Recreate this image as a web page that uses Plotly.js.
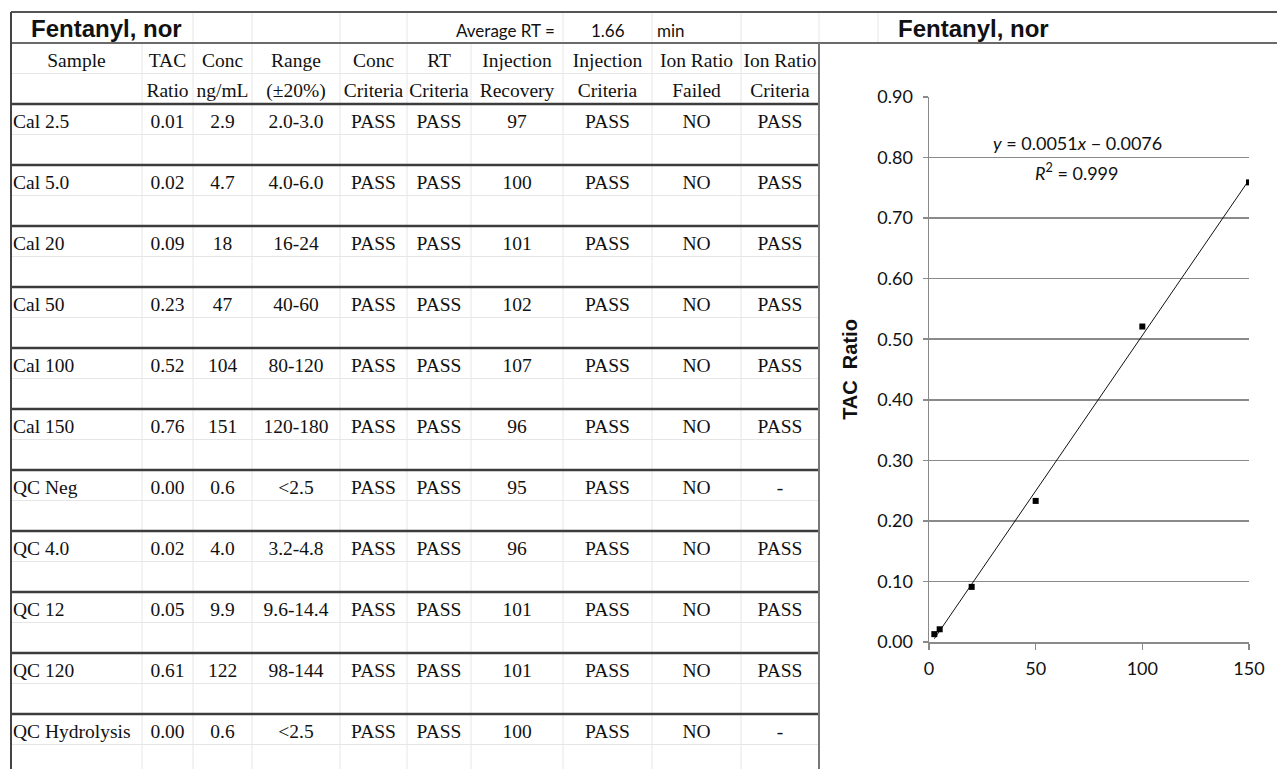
<!DOCTYPE html>
<html>
<head>
<meta charset="utf-8">
<script src="https://cdn.plot.ly/plotly-3.0.1.min.js"></script>
<style>html,body{margin:0;padding:0;background:#fff;}#chart{width:1277px;height:769px;}</style>
</head>
<body>
<div id="chart"></div>
<script>
// ---------------- DATA ----------------
const analyte = 'Fentanyl, nor';
const averageRT = '1.66';
const samples = ['Cal 2.5','Cal 5.0','Cal 20','Cal 50','Cal 100','Cal 150','QC Neg','QC 4.0','QC 12','QC 120','QC Hydrolysis'];
const tacRatio = [0.01,0.02,0.09,0.23,0.52,0.76,0.00,0.02,0.05,0.61,0.00];
const concNgMl = ['2.9','4.7','18','47','104','151','0.6','4.0','9.9','122','0.6'];
const rangeText = ['2.0-3.0','4.0-6.0','16-24','40-60','80-120','120-180','<2.5','3.2-4.8','9.6-14.4','98-144','<2.5'];
const concCriteria = ['PASS','PASS','PASS','PASS','PASS','PASS','PASS','PASS','PASS','PASS','PASS'];
const rtCriteria = ['PASS','PASS','PASS','PASS','PASS','PASS','PASS','PASS','PASS','PASS','PASS'];
const injRecovery = [97,100,101,102,107,96,95,96,101,101,100];
const injCriteria = ['PASS','PASS','PASS','PASS','PASS','PASS','PASS','PASS','PASS','PASS','PASS'];
const ionRatioFailed = ['NO','NO','NO','NO','NO','NO','NO','NO','NO','NO','NO'];
const ionRatioCriteria = ['PASS','PASS','PASS','PASS','PASS','PASS','-','PASS','PASS','PASS','-'];
const headerLine1 = ['Sample','TAC','Conc','Range','Conc','RT','Injection','Injection','Ion Ratio','Ion Ratio'];
const headerLine2 = ['','Ratio','ng/mL','(±20%)','Criteria','Criteria','Recovery','Criteria','Failed','Criteria'];
// calibration curve points
const calConc = [2.5,5,20,50,100,150];
const calRatio = [0.013,0.021,0.091,0.233,0.521,0.759];
const equationText = '<i>y</i> = 0.0051<i>x</i> − 0.0076';
const r2Text = '<i>R</i><sup>2</sup> = 0.999';
const yTicks = [0,0.1,0.2,0.3,0.4,0.5,0.6,0.7,0.8,0.9];
const xTicks = [0,50,100,150];

// ---------------- LAYOUT GEOMETRY (pixels) ----------------
const W = 1277, H = 769;
const colEdges = [11,142,193,252,340,407,471,563,652,741,819];
const titleTop = 12, titleBot = 43, subRow = 30.5, dataTop = 104, groupH = 61;
const esc = s => String(s).replace(/</g,'&lt;').replace(/>/g,'&gt;');
const serif = {family:'Liberation Serif, serif', size:19.5, color:'#111'};
const calibri = {family:'Lato, sans-serif', size:17, color:'#111'};

const columns = [samples, tacRatio.map(v=>v.toFixed(2)), concNgMl, rangeText, concCriteria, rtCriteria,
  injRecovery.map(String), injCriteria, ionRatioFailed, ionRatioCriteria];

const traces = [];
const colCenter = c => (colEdges[c]+colEdges[c+1])/2;

columns.forEach((col,c)=>{
  traces.push({type:'scatter', mode:'text', xaxis:'x2', yaxis:'y2', hoverinfo:'skip', cliponaxis:false,
    x: col.map(()=> c===0 ? colEdges[0]+2 : colCenter(c)),
    y: col.map((_,i)=> dataTop + groupH*i + 19),
    text: col.map(esc), textposition: c===0 ? 'middle right' : 'middle center', textfont: serif});
});
[headerLine1, headerLine2].forEach((hdr,r)=>{
  const idx = hdr.map((h,c)=>c).filter(c=>hdr[c] !== '');
  traces.push({type:'scatter', mode:'text', xaxis:'x2', yaxis:'y2', hoverinfo:'skip', cliponaxis:false,
    x: idx.map(c=>colCenter(c)), y: idx.map(()=> titleBot + subRow*r + 19),
    text: idx.map(c=>esc(hdr[c])), textposition:'middle center', textfont: serif});
});

// calibration scatter and least squares trend line
const n = calConc.length;
const mx = calConc.reduce((a,b)=>a+b,0)/n, my = calRatio.reduce((a,b)=>a+b,0)/n;
let sxy=0, sxx=0;
for(let i=0;i<n;i++){ sxy+=(calConc[i]-mx)*(calRatio[i]-my); sxx+=(calConc[i]-mx)**2; }
const slope = sxy/sxx, icpt = my - slope*mx;
const xMin = Math.min(...calConc), xMax = Math.max(...calConc);
traces.push({type:'scatter', mode:'lines', x:[xMin,xMax], y:[slope*xMin+icpt, slope*xMax+icpt],
  line:{color:'#111', width:1}, hoverinfo:'skip', xaxis:'x', yaxis:'y'});
traces.push({type:'scatter', mode:'markers', x:calConc, y:calRatio,
  marker:{symbol:'square', size:6, color:'#000'}, xaxis:'x', yaxis:'y'});

// ---------------- SHAPES (spreadsheet grid) ----------------
const shapes = [];
const L = (x0,y0,x1,y1,color,width)=>shapes.push({type:'line', xref:'x2', yref:'y2', x0,y0,x1,y1, line:{color,width}, layer:'below'});
const light = '#e6e6e6', dark = '#3c3c3c';
// vertical light lines (body)
for(let c=1;c<colEdges.length-1;c++) L(colEdges[c], titleBot, colEdges[c], H, light, 1);
// title row vertical light lines
[193,252,340,407,563,652,741,819,878].forEach(x=>L(x,titleTop,x,titleBot,light,1));
// sub-row light lines
L(colEdges[0], titleBot+subRow, colEdges[10], titleBot+subRow, light, 1);
for(let i=0;i<samples.length;i++) L(colEdges[0], dataTop+groupH*i+subRow, colEdges[10], dataTop+groupH*i+subRow, light, 1);
// thick separators
for(let i=0;i<samples.length;i++) L(colEdges[0], dataTop+groupH*i, colEdges[10], dataTop+groupH*i, dark, 2.5);
// outer borders
L(colEdges[0], titleTop, W, titleTop, '#555', 2);
L(colEdges[0], titleBot, W, titleBot, '#6a6a6a', 2);
L(colEdges[0], titleTop, colEdges[0], H, '#444', 2);
L(colEdges[10], titleBot, colEdges[10], H, '#777', 2);

// ---------------- ANNOTATIONS ----------------
const ann = [];
const A = (o)=>ann.push(Object.assign({xref:'x2', yref:'y2', showarrow:false}, o));
const boldSans = {family:'Liberation Sans, Arial', size:24, color:'#111'};
A({x:29, y:28, text:'<b>'+esc(analyte)+'</b>', xanchor:'left', yanchor:'middle', font:boldSans});
A({x:557, y:30, text:'Average RT =', xanchor:'right', yanchor:'middle', font:calibri});
A({x:colCenter(7), y:30, text:averageRT, xanchor:'center', yanchor:'middle', font:calibri});
A({x:655, y:30, text:'min', xanchor:'left', yanchor:'middle', font:calibri});
A({x:896, y:28, text:'<b>'+esc(analyte)+'</b>', xanchor:'left', yanchor:'middle', font:boldSans});
A({x:1077, y:143, text:equationText, xanchor:'center', yanchor:'middle', font:{family:'Lato, sans-serif', size:18, color:'#111'}});
A({x:1077, y:172, text:r2Text, xanchor:'center', yanchor:'middle', font:{family:'Lato, sans-serif', size:18, color:'#111'}});

const pxX = p => p/W, pxY = p => 1 - p/H;
const tickFont = {family:'Lato, sans-serif', size:18, color:'#111'};
const layout = {
  width:W, height:H, margin:{l:0,r:0,t:0,b:0,pad:0}, paper_bgcolor:'#fff', plot_bgcolor:'rgba(0,0,0,0)',
  showlegend:false,
  xaxis:{domain:[pxX(929), pxX(1249)], range:[0,150], tickvals:xTicks, ticks:'outside', ticklen:6, tickwidth:1.5,
    tickcolor:'#8a8a8a', showline:true, linecolor:'#8a8a8a', linewidth:1.5, showgrid:false, zeroline:false,
    tickfont:tickFont, ticklabelstandoff:4, anchor:'y', fixedrange:true},
  yaxis:{domain:[pxY(642), pxY(97)], range:[0,0.9], tickvals:yTicks, tickformat:'.2f', ticks:'outside', ticklen:5, tickwidth:1.5,
    tickcolor:'#8a8a8a', showline:true, linecolor:'#8a8a8a', linewidth:1.5, showgrid:true, gridcolor:'#8a8a8a', gridwidth:1.5,
    zeroline:false, tickfont:tickFont, ticklabelstandoff:6, anchor:'x', fixedrange:true,
    title:{text:'<b>TAC  Ratio</b>', font:{family:'Liberation Sans, Arial', size:20, color:'#111'}, standoff:14}},
  xaxis2:{domain:[0,1], range:[0,W], visible:false, fixedrange:true, anchor:'y2'},
  yaxis2:{domain:[0,1], range:[H,0], visible:false, fixedrange:true, anchor:'x2'},
  shapes, annotations:ann
};
Plotly.newPlot('chart', traces, layout, {displayModeBar:false, staticPlot:true});
</script>
</body>
</html>
